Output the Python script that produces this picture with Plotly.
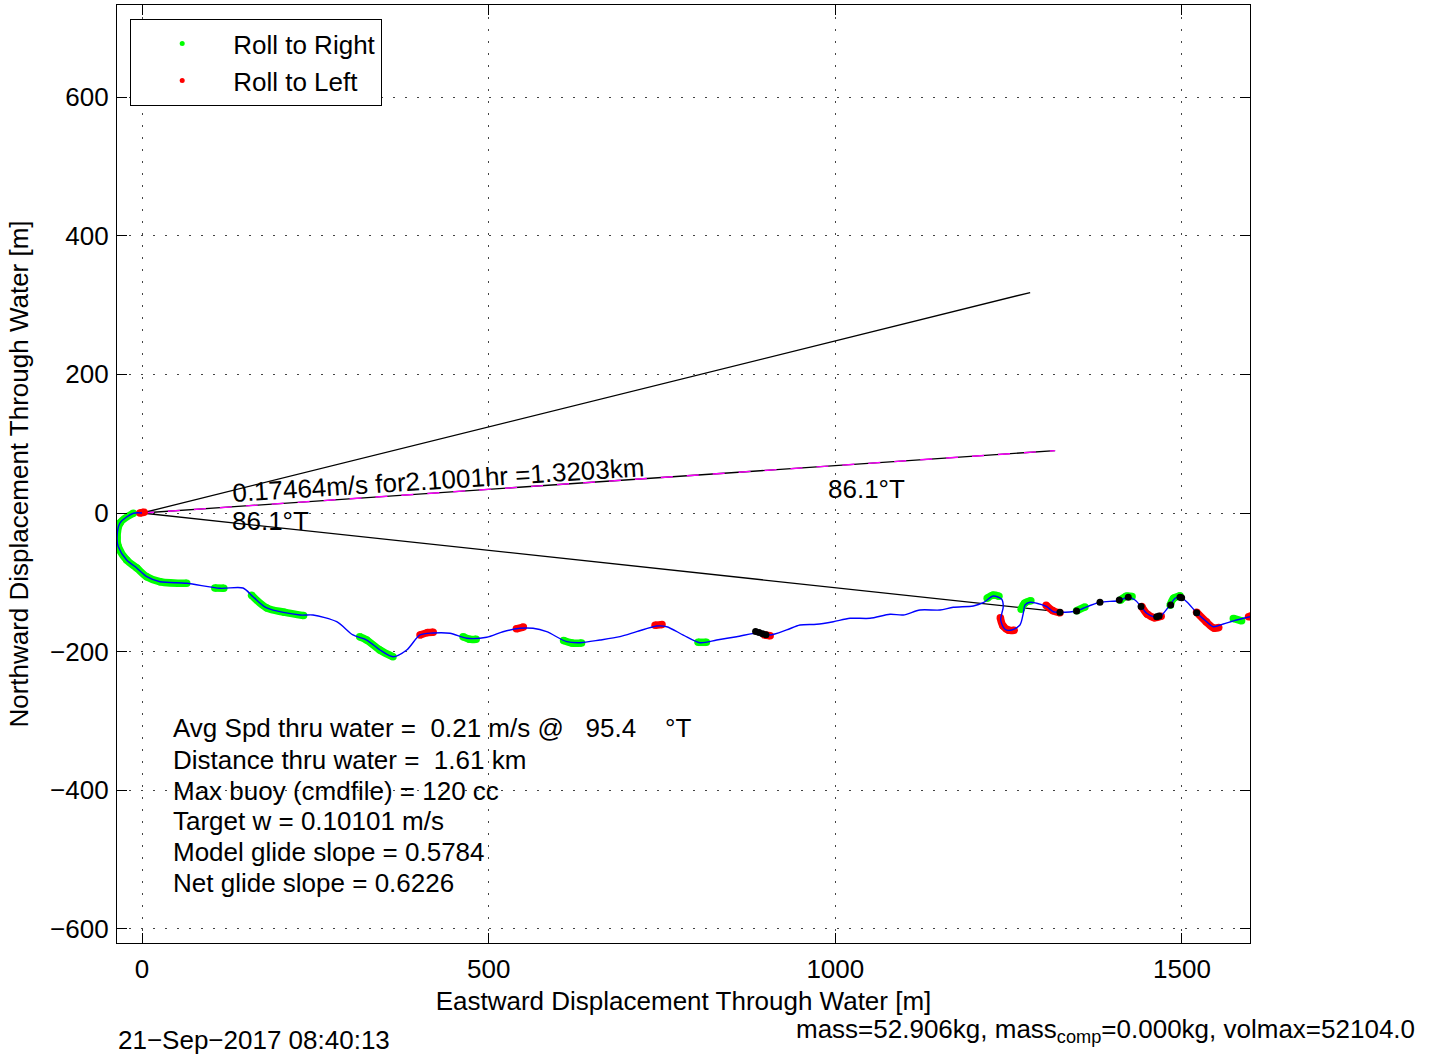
import plotly.graph_objects as go

# ---------------- data (metres, east / north) ----------------
track_x = [0, -12.5, -31.7, -36, -34.2, -22.1, -7.6, 6.8, 26, 64.5, 112.5, 145.7, 160.1, 179.9, 227.9,
           246.6, 280.8, 304.3, 324.1, 343.3, 362, 381.8, 401, 419.7, 444.2, 468.3, 497.2, 520.7, 545.2,
           564, 583.7, 612.6, 631.7, 660.6, 689.4, 713.5, 742.4, 756.8, 780.7, 804.8, 828.9, 857.7, 891.3,
           905.7, 929.8, 949, 973.1, 997.1, 1021.2, 1050, 1078.9, 1098, 1122.1, 1150.9, 1170.1, 1199,
           1213.4, 1227.8, 1240, 1242.2, 1238.5, 1244.7, 1254.4, 1266.3, 1271.1, 1273.6, 1280.8, 1290.4,
           1304.9, 1314.4, 1324, 1348.1, 1357.7, 1381.7, 1408.1, 1422.5, 1432.2, 1441.9, 1449.1, 1461,
           1468.3, 1482.7, 1489.9, 1498.1, 1506.8, 1521.2, 1535.6, 1545.2, 1559.6, 1578.9, 1598.1]
track_y = [0, -0.4, -14.4, -36, -48.6, -67.8, -79.3, -91.9, -99.1, -101.4, -108.6, -108.2, -120.7, -137,
           -147.1, -147.1, -156.8, -175.9, -183.2, -197.6, -207.3, -197.6, -175.9, -173.1, -173.5, -180.7,
           -179.3, -171.2, -166.3, -166.3, -171.2, -185.6, -187.1, -183.2, -178.4, -171.2, -163, -164,
           -176, -187.1, -183.2, -178.4, -172.6, -176, -168.7, -161.5, -160.5, -156.8, -151.9, -151.9,
           -146.1, -147.1, -139.9, -139.9, -136, -134.1, -129.4, -119.7, -124.5, -135.1, -154.3, -167.7,
           -168.7, -161.5, -144.7, -132.7, -128.8, -130.2, -135.1, -142.4, -143.2, -141.3, -137.4, -128.8,
           -126.5, -121.6, -125.5, -136, -144.7, -150.4, -149.6, -132.7, -123, -121.6, -127.9, -143.8,
           -156.8, -164, -160.1, -154.3, -149.6]

# roll-to-right (green) stretches, separated by None
right_x = [-12.5, -31.7, -36, -34.2, -22.1, -7.6, 6.8, 26, 64.5, None,
           105, 118, None,
           158, 180, 205, 233, None,
           314, 324, 343, 362, None,
           463, 472, 482, None,
           608, 620, 634, None,
           802, 814, None,
           1219, 1227, 1236, None,
           1268, 1273, 1282, None,
           1348, 1360, None,
           1411, 1420, 1428, None,
           1483, 1488, 1497, None,
           1574, 1586]
right_y = [-0.4, -14.4, -36, -48.6, -67.8, -79.3, -91.9, -99.1, -101.4, None,
           -108.2, -108.6, None,
           -118.5, -137, -143, -148, None,
           -178.4, -183.2, -197.6, -207.3, None,
           -178.4, -182, -182, None,
           -184, -187.5, -187.5, None,
           -186.5, -186.5, None,
           -123, -118.5, -120, None,
           -139, -130, -126.5, None,
           -141, -135.5, None,
           -126, -120, -120.5, None,
           -133, -123, -119.5, None,
           -152, -155.5]

# roll-to-left (red) stretches
left_x = [-3, 3, None,
          401, 412, 420, None,
          540, 550, None,
          740, 750, None,
          898, 906, None,
          1238, 1242, 1250, 1258, None,
          1304, 1314, 1324, None,
          1442, 1450, 1460, 1470, None,
          1521, 1535, 1546, 1553, None,
          1596, 1599]
left_y = [0, 1, None,
          -176, -172.5, -172, None,
          -167, -164.5, None,
          -162, -161, None,
          -176, -177, None,
          -151, -163, -169, -169, None,
          -133, -141, -144, None,
          -135, -146, -151, -149, None,
          -143, -157, -166, -165, None,
          -149.5, -149]

# black markers
dot_x = [885, 890, 895, 900, 1324, 1348, 1381.7, 1409.6, 1422.5, 1441, 1463.5, 1467, 1483.7, 1497.1,
         1499.5, 1521.2]
dot_y = [-171, -172.5, -174, -175.5, -143.2, -141.3, -128.8, -125.5, -121.6, -135, -149.6, -148.6,
         -132.7, -121.6, -122.1, -143.8]

# heading fan from the origin
upper_x = [0, 1281]
upper_y = [0, 318]
mid_x = [0, 1317]
mid_y = [0, 90]
lower_x = [0, 1318]
lower_y = [0, -142]

x_ticks = [0, 500, 1000, 1500]
y_ticks = [-600, -400, -200, 0, 200, 400, 600]

info_lines = [
    "Avg Spd thru water =\u00a0\u00a00.21 m/s @\u00a0\u00a0 95.4\u00a0\u00a0\u00a0 °T",
    "Distance thru water =\u00a0\u00a01.61 km",
    "Max buoy (cmdfile) = 120 cc",
    "Target w = 0.10101 m/s",
    "Model glide slope = 0.5784",
    "Net glide slope = 0.6226",
]

# ---------------- figure ----------------
FONT = "Liberation Sans, Arial, Helvetica, sans-serif"
FS = 26
L, R, T, B = 117, 1250, 5, 943
W, H = 1451, 1059


def px(p):
    return (p - L) / (R - L)


def py(p):
    return (B - p) / (B - T)


fig = go.Figure()

fig.add_trace(go.Scatter(x=upper_x, y=upper_y, mode="lines", line=dict(color="black", width=1.3),
                         showlegend=False, hoverinfo="skip"))
fig.add_trace(go.Scatter(x=lower_x, y=lower_y, mode="lines", line=dict(color="black", width=1.3),
                         showlegend=False, hoverinfo="skip"))
fig.add_trace(go.Scatter(x=mid_x, y=mid_y, mode="lines", line=dict(color="black", width=1.3),
                         showlegend=False, hoverinfo="skip"))
fig.add_trace(go.Scatter(x=mid_x, y=mid_y, mode="lines",
                         line=dict(color="#ff00ff", width=1.4, dash="12px,14px"),
                         showlegend=False, hoverinfo="skip"))

fig.add_trace(go.Scatter(x=right_x, y=right_y, mode="lines+markers",
                         line=dict(color="#00ff00", width=7.5, shape="spline"),
                         marker=dict(color="#00ff00", size=7.5), connectgaps=False,
                         showlegend=False, hoverinfo="skip"))
fig.add_trace(go.Scatter(x=left_x, y=left_y, mode="lines+markers",
                         line=dict(color="#ff0000", width=7.5, shape="spline"),
                         marker=dict(color="#ff0000", size=7.5), connectgaps=False,
                         showlegend=False, hoverinfo="skip"))

fig.add_trace(go.Scatter(x=track_x, y=track_y, mode="lines",
                         line=dict(color="#0000ff", width=1.4, shape="spline", smoothing=0.8),
                         showlegend=False))
fig.add_trace(go.Scatter(x=dot_x, y=dot_y, mode="markers", marker=dict(color="black", size=7),
                         showlegend=False))

# legend entries
fig.add_trace(go.Scatter(x=[None], y=[None], mode="markers", name="Roll to Right",
                         marker=dict(color="#00ff00", size=5)))
fig.add_trace(go.Scatter(x=[None], y=[None], mode="markers", name="Roll to Left",
                         marker=dict(color="#ff0000", size=5)))

ann = []
ann.append(dict(x=428, y=47, xref="x", yref="y", text="0.17464m/s for2.1001hr =1.3203km",
                textangle=-3.6, showarrow=False, font=dict(size=FS, color="black", family=FONT)))
ann.append(dict(x=185, y=-11.5, xref="x", yref="y", text="86.1°T", showarrow=False,
                font=dict(size=FS, color="black", family=FONT)))
ann.append(dict(x=1045, y=34.6, xref="x", yref="y", text="86.1°T", showarrow=False,
                font=dict(size=FS, color="black", family=FONT)))

line_y = [728, 760, 791, 821, 852, 883]
for txt, yy in zip(info_lines, line_y):
    ann.append(dict(x=px(171), y=py(yy), xref="paper", yref="paper", text=txt, showarrow=False,
                    xanchor="left", yanchor="middle", font=dict(size=FS, color="black", family=FONT)))

ann.append(dict(x=px(116), y=py(1040), xref="paper", yref="paper", text="21\u2212Sep\u22122017 08:40:13",
                showarrow=False, xanchor="left", yanchor="middle",
                font=dict(size=FS, color="black", family=FONT)))
ann.append(dict(x=px(794), y=py(1030), xref="paper", yref="paper",
                text="mass=52.906kg, mass<sub>comp</sub>=0.000kg, volmax=52104.0",
                showarrow=False, xanchor="left", yanchor="middle",
                font=dict(size=FS, color="black", family=FONT)))

axis_common = dict(
    showline=True, linecolor="black", linewidth=1.2, mirror="ticks",
    ticks="inside", ticklen=10, tickwidth=1, tickcolor="black",
    showgrid=True, gridcolor="#444444", gridwidth=1, griddash="2px,10px",
    zeroline=False, tickfont=dict(size=FS, color="black", family=FONT),
    automargin=False,
)

fig.update_layout(
    width=W, height=H, autosize=False,
    margin=dict(l=L, r=W - R, t=T, b=H - B, pad=0),
    paper_bgcolor="white", plot_bgcolor="white",
    font=dict(family=FONT, size=FS, color="black"),
    xaxis=dict(range=[-36.06, 1598.1], tickvals=x_ticks, ticklabelstandoff=3,
               title=dict(text="Eastward Displacement Through Water [m]", standoff=8,
                          font=dict(size=FS, color="black", family=FONT)),
               **axis_common),
    yaxis=dict(range=[-620.2, 732.7], tickvals=y_ticks, ticklabelstandoff=2,
               title=dict(text="Northward Displacement Through Water [m]", standoff=14,
                          font=dict(size=FS, color="black", family=FONT)),
               **axis_common),
    legend=dict(x=px(130), y=py(19), xanchor="left", yanchor="top",
                bordercolor="black", borderwidth=1.2, bgcolor="white",
                font=dict(size=FS, color="black", family=FONT),
                itemwidth=92, tracegroupgap=0),
    annotations=ann,
    showlegend=True,
)

fig.write_html("out.html", config={"displayModeBar": False},
               post_script="document.body.style.margin='0';")
